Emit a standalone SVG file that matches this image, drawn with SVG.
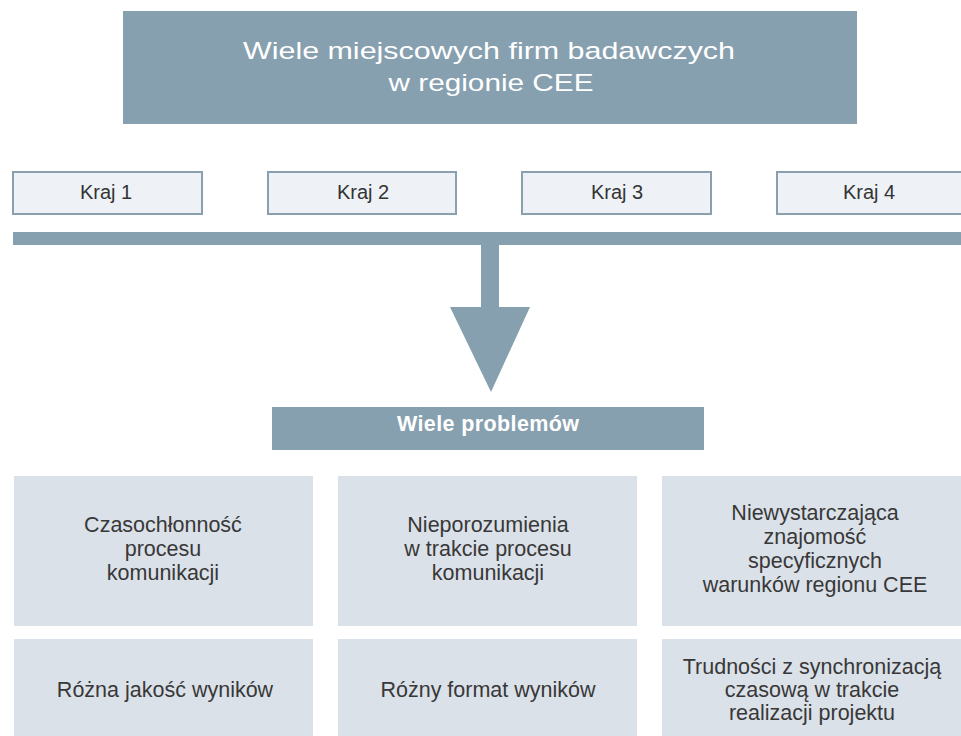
<svg xmlns="http://www.w3.org/2000/svg" width="961" height="736" viewBox="0 0 961 736">
<style>
.dark{fill:#87a0af}
.kraj{fill:#eef2f6;stroke:#8ba0ae;stroke-width:2}
.cell{fill:#dbe1e8}
.t{font-family:"Liberation Sans",Arial,sans-serif;text-anchor:middle}
.title{font-size:24.5px;fill:#ffffff}
.kt{font-size:20px;fill:#333333}
.pt{font-size:21.5px;font-weight:bold;fill:#ffffff}
.ct{font-size:21.5px;fill:#383838}
</style>
<rect width="961" height="736" fill="#ffffff"/>
<g id="title">
<rect class="dark" x="123" y="11" width="734" height="113"/>
<text class="t title" x="489" y="59" textLength="492" lengthAdjust="spacingAndGlyphs">Wiele miejscowych firm badawczych</text>
<text class="t title" x="491" y="91" textLength="205" lengthAdjust="spacingAndGlyphs">w regionie CEE</text>
</g>
<g id="kraj1">
<rect class="kraj" x="13" y="172" width="189" height="42"/>
<text class="t kt" x="106" y="198.5">Kraj 1</text>
</g>
<g id="kraj2">
<rect class="kraj" x="268" y="172" width="188" height="42"/>
<text class="t kt" x="363" y="198.5">Kraj 2</text>
</g>
<g id="kraj3">
<rect class="kraj" x="522" y="172" width="189" height="42"/>
<text class="t kt" x="617" y="198.5">Kraj 3</text>
</g>
<g id="kraj4">
<rect class="kraj" x="777" y="172" width="190" height="42"/>
<text class="t kt" x="869" y="198.5">Kraj 4</text>
</g>
<g id="connectors">
<rect class="dark" x="13" y="232" width="950" height="13"/>
<rect class="dark" x="481" y="244" width="18" height="64"/>
<polygon class="dark" points="450,307 530,307 491,392"/>
</g>
<g id="problems">
<rect class="dark" x="272" y="407" width="432" height="43"/>
<text class="t pt" x="488" y="431" textLength="182">Wiele problemów</text>
</g>
<g id="c1">
<rect class="cell" x="14" y="476" width="299" height="150"/>
<text class="t ct" x="163" y="532">Czasochłonność</text>
<text class="t ct" x="163" y="556">procesu</text>
<text class="t ct" x="163" y="580">komunikacji</text>
</g>
<g id="c2">
<rect class="cell" x="338" y="476" width="299" height="150"/>
<text class="t ct" x="488" y="532">Nieporozumienia</text>
<text class="t ct" x="488" y="556">w trakcie procesu</text>
<text class="t ct" x="488" y="580">komunikacji</text>
</g>
<g id="c3">
<rect class="cell" x="662" y="476" width="301" height="150"/>
<text class="t ct" x="815" y="520">Niewystarczająca</text>
<text class="t ct" x="815" y="544">znajomość</text>
<text class="t ct" x="815" y="568">specyficznych</text>
<text class="t ct" x="815" y="592">warunków regionu CEE</text>
</g>
<g id="c4">
<rect class="cell" x="14" y="639" width="299" height="100"/>
<text class="t ct" x="165" y="697">Różna jakość wyników</text>
</g>
<g id="c5">
<rect class="cell" x="338" y="639" width="299" height="100"/>
<text class="t ct" x="488" y="697">Różny format wyników</text>
</g>
<g id="c6">
<rect class="cell" x="662" y="639" width="301" height="100"/>
<text class="t ct" x="812" y="674">Trudności z synchronizacją</text>
<text class="t ct" x="812" y="697">czasową w trakcie</text>
<text class="t ct" x="812" y="720">realizacji projektu</text>
</g>
</svg>
